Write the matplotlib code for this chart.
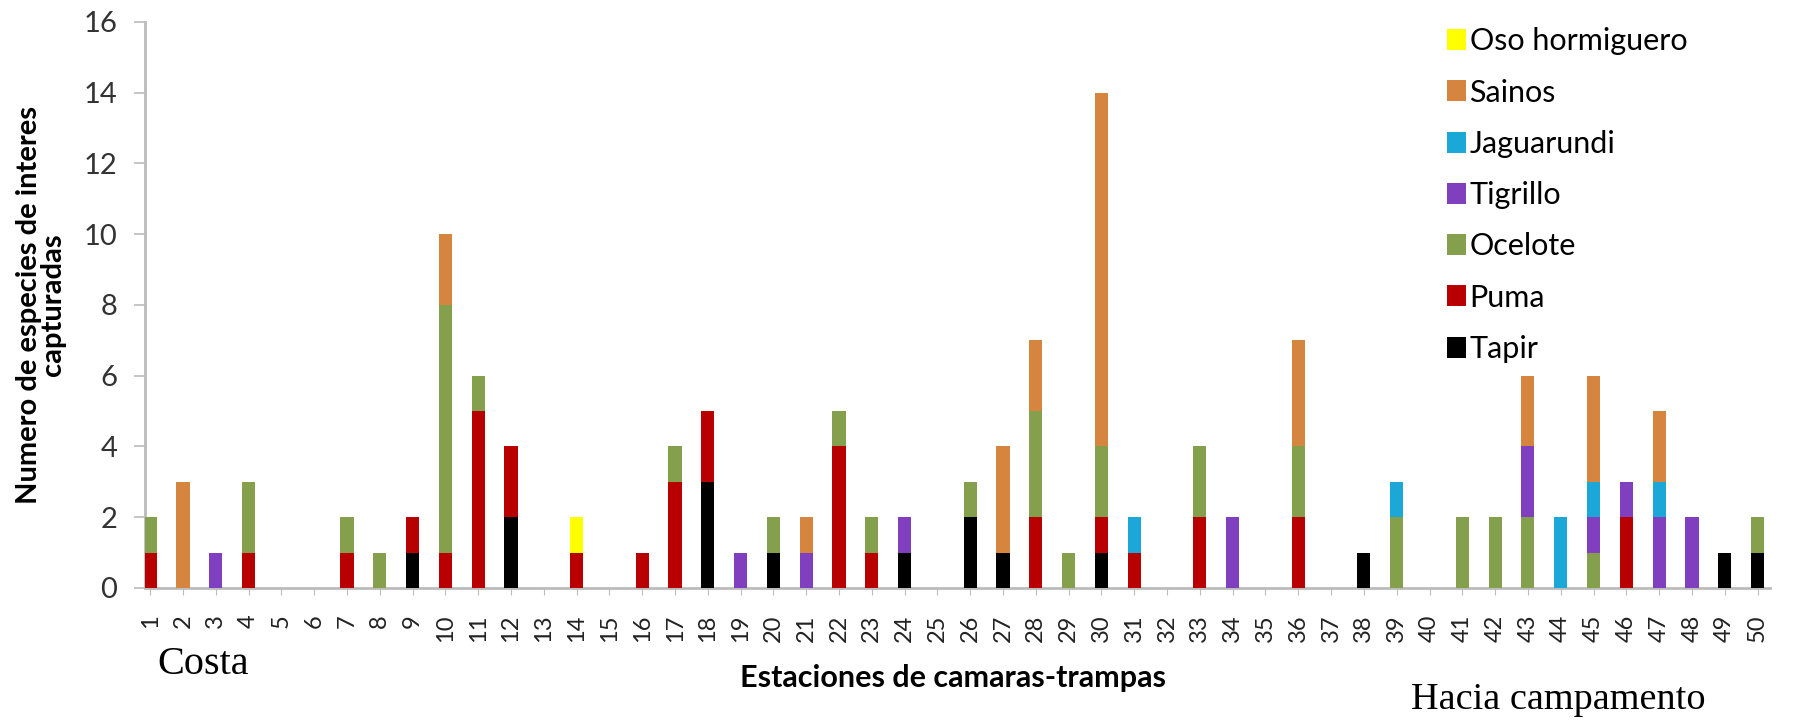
import numpy as np
import matplotlib.pyplot as plt

# stacking order bottom -> top
stations = list(range(1, 51))
tapir   = [0,0,0,0,0,0,0,0,1,0, 0,2,0,0,0,0,0,3,0,1, 0,0,0,1,0,2,1,0,0,1, 0,0,0,0,0,0,0,1,0,0, 0,0,0,0,0,0,0,0,1,1]
puma    = [1,0,0,1,0,0,1,0,1,1, 5,2,0,1,0,1,3,2,0,0, 0,4,1,0,0,0,0,2,0,1, 1,0,2,0,0,2,0,0,0,0, 0,0,0,0,0,2,0,0,0,0]
ocelote = [1,0,0,2,0,0,1,1,0,7, 1,0,0,0,0,0,1,0,0,1, 0,1,1,0,0,1,0,3,1,2, 0,0,2,0,0,2,0,0,2,0, 2,2,2,0,1,0,0,0,0,1]
tigrillo= [0,0,1,0,0,0,0,0,0,0, 0,0,0,0,0,0,0,0,1,0, 1,0,0,1,0,0,0,0,0,0, 0,0,0,2,0,0,0,0,0,0, 0,0,2,0,1,1,2,2,0,0]
jaguar  = [0,0,0,0,0,0,0,0,0,0, 0,0,0,0,0,0,0,0,0,0, 0,0,0,0,0,0,0,0,0,0, 1,0,0,0,0,0,0,0,1,0, 0,0,0,2,1,0,1,0,0,0]
sainos  = [0,3,0,0,0,0,0,0,0,2, 0,0,0,0,0,0,0,0,0,0, 1,0,0,0,0,0,3,2,0,10, 0,0,0,0,0,3,0,0,0,0, 0,0,2,0,3,0,2,0,0,0]
oso     = [0,0,0,0,0,0,0,0,0,0, 0,0,0,1,0,0,0,0,0,0, 0,0,0,0,0,0,0,0,0,0, 0,0,0,0,0,0,0,0,0,0, 0,0,0,0,0,0,0,0,0,0]

series = [("Tapir", tapir, "#000000"),
          ("Puma", puma, "#b80000"),
          ("Ocelote", ocelote, "#84a04c"),
          ("Tigrillo", tigrillo, "#7f3fbf"),
          ("Jaguarundi", jaguar, "#1ba8d8"),
          ("Sainos", sainos, "#d6853e"),
          ("Oso hormiguero", oso, "#ffff00")]

plt.rcParams['font.family'] = ['Lato', 'DejaVu Sans']

fig = plt.figure(figsize=(17.93, 7.21), dpi=100)
ax = fig.add_axes([0.081, 0.1845, 0.906, 0.785])

x = np.array(stations)
bottom = np.zeros(len(x))
handles = []
for name, vals, col in series:
    b = ax.bar(x, vals, 0.4, bottom=bottom, color=col, label=name, zorder=3)
    handles.append(b)
    bottom += np.array(vals)

ax.set_xlim(0.85, 50.37)
ax.set_ylim(0, 16)
ax.set_yticks(range(0, 17, 2))
ax.tick_params(axis='y', labelsize=21, labelcolor='#333333', color='#bbbbbb',
               length=8, width=1.2, pad=12)
ax.set_xticks(x)
ax.set_xticklabels([str(s) for s in stations], rotation=90, fontsize=17, color='#222222')
ax.tick_params(axis='x', length=5, color='#bbbbbb', pad=14)

for s in ['top', 'right']:
    ax.spines[s].set_visible(False)
for s in ['left', 'bottom']:
    ax.spines[s].set_color('#bbbbbb')
    ax.spines[s].set_linewidth(2)

ax.set_ylabel("Numero de especies de interes\ncapturadas", fontsize=21,
              fontweight='bold', linespacing=0.9)
ax.yaxis.set_label_coords(-0.049, 0.5)
ax.set_xlabel("Estaciones de camaras-trampas", fontsize=22, fontweight='bold')
ax.xaxis.label.set_va('center')
ax.xaxis.set_label_coords(0.4975, -0.159)

fig.legend(handles[::-1], [s[0] for s in series][::-1], loc='upper left',
           bbox_to_anchor=(0.807, 0.962), frameon=False, fontsize=22,
           labelspacing=0.76, handlelength=0.62, handleheight=0.68,
           handletextpad=0.12, borderpad=0, borderaxespad=0)

fig.text(0.088, 0.079, "Costa", fontsize=29, family='Liberation Serif', va='center')
fig.text(0.787, 0.029, "Hacia campamento", fontsize=27.5, family='Liberation Serif', va='center')

fig.savefig("out.png", dpi=100)
